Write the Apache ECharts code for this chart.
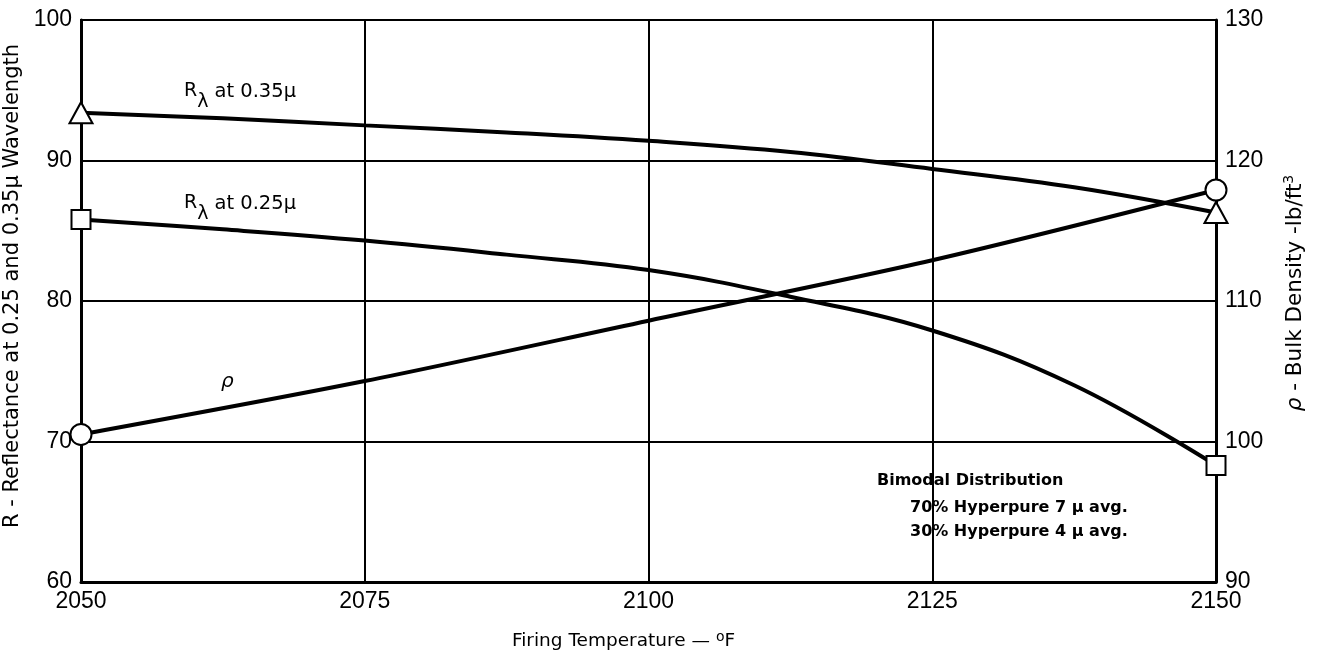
<!DOCTYPE html>
<html>
<head>
<meta charset="utf-8">
<script src="https://cdn.jsdelivr.net/npm/echarts@6/dist/echarts.min.js"></script>
<style>html,body{margin:0;padding:0;background:#fff;}#c{width:1319px;height:653px;}</style>
</head>
<body>
<div id="c"></div>
<script>
// ---- data ----
const temps = [2050, 2062.5, 2075, 2087.5, 2100, 2112.5, 2125, 2137.5, 2150];
const r035 = [93.4, 93.0, 92.5, 92.0, 91.4, 90.6, 89.4, 88.1, 86.3];
const r025 = [85.8, 85.1, 84.3, 83.3, 82.2, 80.3, 77.9, 74.0, 68.3];
const densTemps = [2050, 2075, 2100, 2125, 2150];
const density = [100.5, 104.3, 108.6, 112.9, 117.9];
const xTicks = [2050, 2075, 2100, 2125, 2150];
const leftTicks = [60, 70, 80, 90, 100];
const rightTicks = [90, 100, 110, 120, 130];

const NUM = 'Liberation Sans, Arial, sans-serif';
const TXT = 'DejaVu Sans, sans-serif';

function pts(xs, ys, sym) {
  return xs.map((x, i) => ({
    value: [x, ys[i]],
    symbol: (i === 0 || i === xs.length - 1) ? sym : 'none'
  }));
}

const chart = echarts.init(document.getElementById('c'), null, {renderer: 'canvas'});
const markerStyle = {color: '#fff', borderColor: '#000', borderWidth: 2};
const lblRich = {
  r: {fontFamily: TXT, fontSize: 19, lineHeight: 30, verticalAlign: 'top', color: '#000'},
  l: {fontFamily: TXT, fontSize: 19, lineHeight: 30, verticalAlign: 'bottom', color: '#000'},
  t: {fontFamily: TXT, fontSize: 19.5, lineHeight: 30, verticalAlign: 'top', color: '#000', padding: [0, 0, 0, 6]}
};

chart.setOption({
  backgroundColor: '#fff',
  animation: false,
  grid: {left: 81, right: 103, top: 20, bottom: 71, show: true, borderColor: '#000', borderWidth: 2,
         containLabel: false, outerBoundsMode: 'none'},
  xAxis: {
    type: 'value', min: xTicks[0], max: xTicks[xTicks.length - 1], interval: 25,
    name: 'Firing Temperature — {sup|o}F', nameLocation: 'middle', nameGap: 48,
    nameTextStyle: {fontFamily: TXT, fontSize: 18.5, color: '#000', padding: [0, 50, 0, 0],
      rich: {sup: {fontFamily: TXT, fontSize: 14, color: '#000', verticalAlign: 'top', lineHeight: 22}}},
    axisLine: {lineStyle: {color: '#000', width: 3}},
    axisTick: {show: false},
    axisLabel: {fontFamily: NUM, fontSize: 23, color: '#000', margin: 8, formatter: v => String(v)},
    splitLine: {show: true, lineStyle: {color: '#000', width: 2}}
  },
  yAxis: [{
    type: 'value', min: leftTicks[0], max: leftTicks[leftTicks.length - 1], interval: 10,
    name: 'R - Reflectance at 0.25 and 0.35μ Wavelength', nameLocation: 'middle', nameGap: 55, nameRotate: 90,
    nameTextStyle: {fontFamily: TXT, fontSize: 21, color: '#000', padding: [0, 0, 0, 30]},
    axisLine: {show: true, lineStyle: {color: '#000', width: 3}},
    axisTick: {show: false},
    axisLabel: {fontFamily: NUM, fontSize: 23, color: '#000', margin: 9},
    splitLine: {show: true, lineStyle: {color: '#000', width: 2}}
  }, {
    type: 'value', min: rightTicks[0], max: rightTicks[rightTicks.length - 1], interval: 10, position: 'right',
    name: '{i|ρ} - Bulk Density -lb/ft{sup|3}', nameLocation: 'middle', nameGap: 66, nameRotate: 90,
    nameTextStyle: {fontFamily: TXT, fontSize: 21.5, color: '#000', padding: [0, 0, 0, 16],
      rich: {i: {fontFamily: TXT, fontSize: 21.5, fontStyle: 'italic', color: '#000'},
             sup: {fontFamily: TXT, fontSize: 14, color: '#000', verticalAlign: 'top', lineHeight: 26}}},
    axisLine: {show: true, lineStyle: {color: '#000', width: 3}},
    axisTick: {show: false},
    axisLabel: {fontFamily: NUM, fontSize: 23, color: '#000', margin: 9},
    splitLine: {show: false}
  }],
  series: [{
    name: 'R 0.35', type: 'line', smooth: 0.4, data: pts(temps, r035, 'triangle'),
    symbolSize: [23, 21], itemStyle: markerStyle, lineStyle: {color: '#000', width: 4}, z: 5
  }, {
    name: 'R 0.25', type: 'line', smooth: 0.4, data: pts(temps, r025, 'rect'),
    symbolSize: 19, itemStyle: markerStyle, lineStyle: {color: '#000', width: 4}, z: 5
  }, {
    name: 'rho', type: 'line', smooth: 0.3, yAxisIndex: 1, data: pts(densTemps, density, 'circle'),
    symbolSize: 21, itemStyle: markerStyle, lineStyle: {color: '#000', width: 4}, z: 5
  }],
  graphic: [
    {type: 'text', left: 184, top: 82, z: 10, style: {text: '{r|R}{l|λ}{t|at 0.35μ}', fill: '#000', rich: lblRich}},
    {type: 'text', left: 184, top: 194, z: 10, style: {text: '{r|R}{l|λ}{t|at 0.25μ}', fill: '#000', rich: lblRich}},
    {type: 'text', left: 221, top: 372, z: 10, style: {text: 'ρ', fill: '#000', font: 'italic 20px ' + TXT}},
    {type: 'text', left: 877, top: 473, z: 10, style: {text: 'Bimodal Distribution', fill: '#000', font: 'bold 16px ' + TXT}},
    {type: 'text', left: 910, top: 500, z: 10, style: {text: '70% Hyperpure 7 μ avg.', fill: '#000', font: 'bold 16px ' + TXT}},
    {type: 'text', left: 910, top: 524, z: 10, style: {text: '30% Hyperpure 4 μ avg.', fill: '#000', font: 'bold 16px ' + TXT}}
  ]
});
</script>
</body>
</html>
